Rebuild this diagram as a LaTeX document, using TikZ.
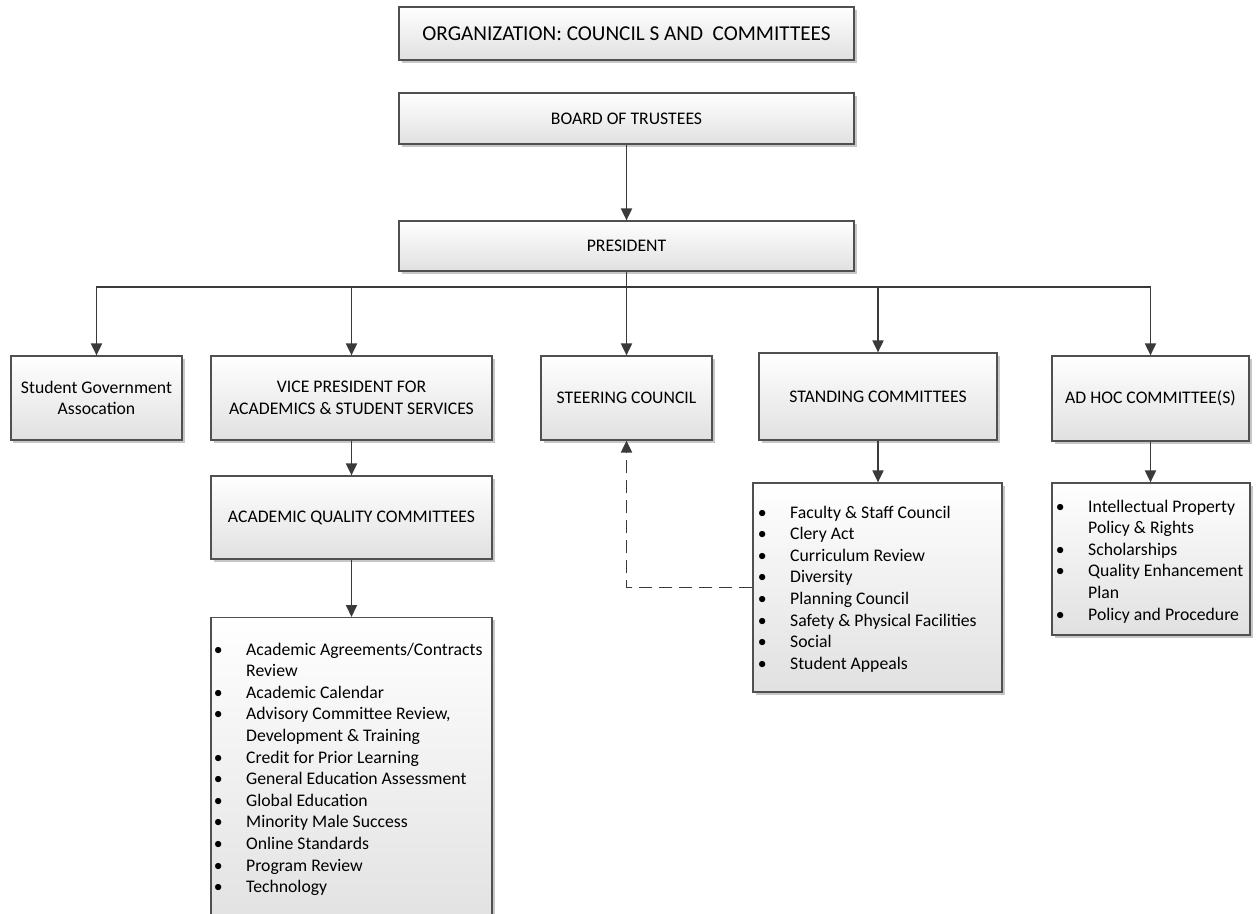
\documentclass[tikz,border=0pt]{standalone}
\usepackage{fontspec}
\setmainfont{Carlito}
\usetikzlibrary{arrows.meta,shadows}
\definecolor{linec}{HTML}{3A3A3A}
\definecolor{boxborder}{HTML}{505050}
\tikzset{
 box/.style={draw=boxborder, line width=1.2bp, top color=white, bottom color=black!12,
   drop shadow={shadow xshift=2.5bp,shadow yshift=-2.5bp,fill=black,opacity=0.22},
   inner sep=0pt, align=center, font=\fontsize{17.7bp}{21.6bp}\selectfont},
 conn/.style={draw=linec, line width=1.9bp, -{Triangle[width=11bp,length=12bp]}},
 dconn/.style={conn, dash pattern=on 13bp off 7bp},
 listtext/.style={anchor=base west, inner sep=0pt, font=\fontsize{17.7bp}{21.6bp}\selectfont}
}
\newcommand\bul{\makebox[20bp][c]{\textbullet}\hspace{18bp}}
\newcommand\cont{\hspace*{38bp}}
\begin{document}
\begin{tikzpicture}[x=1bp,y=-1bp]
\useasboundingbox (0,0) rectangle (1257,914);
\fill[white] (0,0) rectangle (1257,914);
\clip (0,0) rectangle (1257,914);
\node[box, minimum width=455bp, minimum height=53bp, font=\fontsize{21.2bp}{25bp}\selectfont] (title) at (626.5,33.5) {ORGANIZATION: COUNCIL S AND \ COMMITTEES};
\node[box, minimum width=455bp, minimum height=51bp] (board) at (626.5,118.5) {BOARD OF TRUSTEES};
\node[box, minimum width=455bp, minimum height=50bp] (pres) at (626.5,246) {PRESIDENT};
\node[box, minimum width=171bp, minimum height=84bp] (sga) at (96.5,398) {Student Government\\Assocation};
\node[box, minimum width=281bp, minimum height=84bp] (vp) at (351.5,398) {VICE PRESIDENT FOR\\ACADEMICS \& STUDENT SERVICES};
\node[box, minimum width=171bp, minimum height=84bp] (steer) at (626.5,398) {STEERING COUNCIL};
\node[box, minimum width=238bp, minimum height=87bp] (stand) at (878,396.5) {STANDING COMMITTEES};
\node[box, minimum width=197bp, minimum height=85bp] (adhoc) at (1150.5,398.5) {AD HOC COMMITTEE(S)};
\node[box, minimum width=281bp, minimum height=83bp] (aqc) at (351.5,517.5) {ACADEMIC QUALITY COMMITTEES};
\node[box, minimum width=281bp, minimum height=320bp, anchor=north] (aqclist) at (351.5,617) {};
\node[box, minimum width=249bp, minimum height=209bp] (standlist) at (877.5,587.5) {};
\node[box, minimum width=198bp, minimum height=152bp] (adhoclist) at (1151,559) {};
\node[listtext] (aqcitems) at (208,655) {\parbox[t]{280bp}{%
\bul Academic Agreements/Contracts\\
\cont Review\\
\bul Academic Calendar\\
\bul Advisory Committee Review,\\
\cont Development \& Training\\
\bul Credit for Prior Learning\\
\bul General Education Assessment\\
\bul Global Education\\
\bul Minority Male Success\\
\bul Online Standards\\
\bul Program Review\\
\bul Technology}};
\node[listtext] (standitems) at (752,518) {\parbox[t]{250bp}{%
\bul Faculty \& Staff Council\\
\bul Clery Act\\
\bul Curriculum Review\\
\bul Diversity\\
\bul Planning Council\\
\bul Safety \& Physical Facilities\\
\bul Social\\
\bul Student Appeals}};
\node[listtext] (adhocitems) at (1050,512) {\parbox[t]{210bp}{%
\bul Intellectual Property\\
\cont Policy \& Rights\\
\bul Scholarships\\
\bul Quality Enhancement\\
\cont Plan\\
\bul Policy and Procedure}};
\draw[conn] (board) -- (pres);
\draw[conn] (pres.south) -- (steer.north);
\draw[conn] (pres.south) -- ++(0,15) -| (sga.north);
\draw[conn] (pres.south) -- ++(0,15) -| (vp.north);
\draw[conn] (pres.south) -- ++(0,15) -| (stand.north);
\draw[conn] (pres.south) -- ++(0,15) -| (adhoc.north);
\draw[conn] (vp) -- (aqc);
\draw[conn] (aqc) -- (aqclist);
\draw[conn] (stand.south) -- (stand.south |- standlist.north);
\draw[conn] (adhoc.south) -- (adhoc.south |- adhoclist.north);
\draw[dconn] (standlist.west) -| (steer.south);
\end{tikzpicture}
\end{document}
